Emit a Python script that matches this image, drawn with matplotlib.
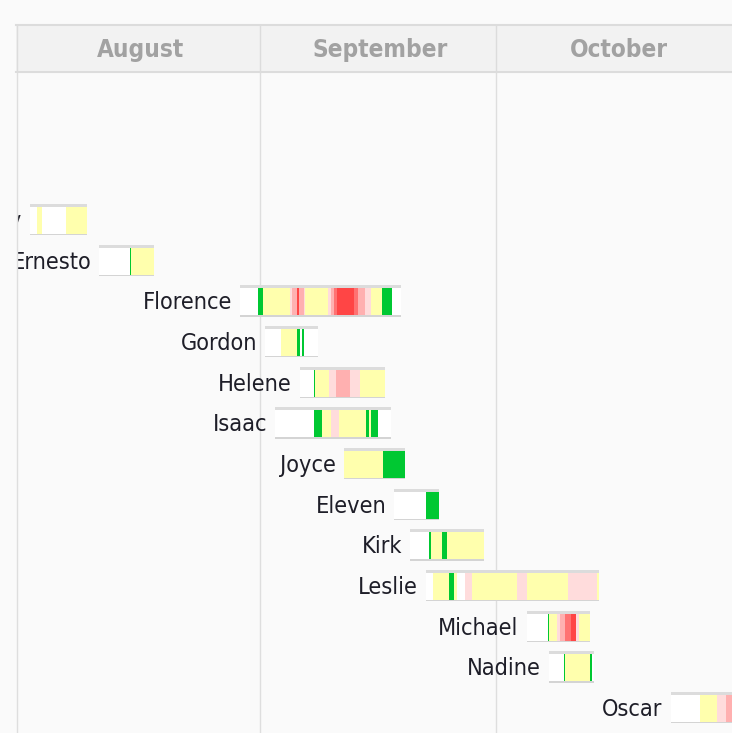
import matplotlib
matplotlib.use("Agg")
import matplotlib.pyplot as plt
from matplotlib import font_manager as fm
from matplotlib import transforms
from matplotlib.patches import Rectangle
from matplotlib.lines import Line2D

# days are counted from Aug 1 (0 = Aug 1, 31 = Sep 1, 61 = Oct 1)
months = ['August', 'September', 'October']
month_start = [0, 31, 61]
month_len = [31, 30, 31]

names = ['Debby', 'Ernesto', 'Florence', 'Gordon', 'Helene', 'Isaac', 'Joyce',
         'Eleven', 'Kirk', 'Leslie', 'Michael', 'Nadine', 'Oscar']
bar_start = [1.66, 10.48, 28.40, 31.58, 36.04, 32.86, 41.65, 48.05, 50.05, 52.09, 64.91, 67.75, 83.25]
bar_end = [8.88, 17.49, 48.87, 38.37, 46.87, 47.63, 49.41, 53.74, 59.51, 74.12, 72.97, 73.52, 95.0]

# (from, to, stage) for each storm
debby = [(2.59, 3.22, 'TS'), (6.24, 8.88, 'TS')]
ernesto = [(14.35, 14.50, 'TD'), (14.50, 17.49, 'TS')]
florence = [(30.73, 31.37, 'TD'), (31.37, 34.77, 'TS'), (34.77, 35.06, 'C1'), (35.06, 35.62, 'C2'),
            (35.62, 35.95, 'C4'), (35.95, 36.49, 'C2'), (36.49, 36.68, 'C1'), (36.68, 39.57, 'TS'),
            (39.57, 39.99, 'C1'), (39.99, 40.43, 'C2'), (40.43, 40.72, 'C3'), (40.72, 42.92, 'C4'),
            (42.92, 43.47, 'C3'), (43.47, 44.32, 'C2'), (44.32, 45.05, 'C1'), (45.05, 46.45, 'TS'),
            (46.45, 47.72, 'TD')]
gordon = [(33.58, 35.62, 'TS'), (35.62, 36.00, 'TD'), (36.33, 36.49, 'TD')]
helene = [(37.79, 37.95, 'TD'), (37.95, 39.77, 'TS'), (39.77, 40.59, 'C1'), (40.59, 42.45, 'C2'),
          (42.45, 43.64, 'C1'), (43.64, 46.87, 'TS')]
isaac = [(37.82, 38.81, 'TD'), (38.81, 40.03, 'TS'), (40.03, 41.01, 'C1'), (41.01, 44.41, 'TS'),
         (44.41, 44.83, 'TD'), (44.83, 45.08, 'TS'), (45.08, 46.01, 'TD')]
joyce = [(41.65, 46.65, 'TS'), (46.65, 49.41, 'TD')]
eleven = [(52.09, 53.71, 'TD')]
kirk = [(52.47, 52.73, 'TD'), (52.73, 54.09, 'TS'), (54.09, 54.73, 'TD'), (54.73, 59.51, 'TS')]
leslie = [(53.02, 55.06, 'TS'), (55.06, 55.69, 'TD'), (55.69, 56.08, 'TS'), (57.06, 57.91, 'C1'),
          (57.91, 63.72, 'TS'), (63.72, 64.91, 'C1'), (64.91, 70.21, 'TS'), (70.21, 73.83, 'C1'),
          (73.83, 74.12, 'TS')]
michael = [(67.59, 67.72, 'TD'), (67.72, 68.73, 'TS'), (68.73, 69.15, 'C1'), (69.15, 69.79, 'C2'),
           (69.79, 70.52, 'C3'), (70.52, 71.19, 'C4'), (71.19, 71.57, 'C1'), (71.57, 72.97, 'TS')]
nadine = [(69.62, 69.79, 'TD'), (69.79, 72.97, 'TS'), (72.97, 73.17, 'TD')]
oscar = [(87.02, 89.11, 'TS'), (89.11, 90.26, 'C1'), (90.26, 95.0, 'C2')]

tracks = [debby, ernesto, florence, gordon, helene, isaac, joyce,
          eleven, kirk, leslie, michael, nadine, oscar]

stage_colors = {'TD': '#00c832', 'TS': '#ffffad', 'C1': '#ffdcdc',
                'C2': '#ffb0b0', 'C3': '#ff7272', 'C4': '#ff4545'}

# font: condensed DejaVu looks closest to the original, fall back to the normal one
path = fm.findfont(fm.FontProperties(family='DejaVu Sans', stretch='condensed'))
if 'Condensed' in path:
    label_font = fm.FontProperties(fname=path, size=16.8)
    bold_path = fm.findfont(fm.FontProperties(family='DejaVu Sans', stretch='condensed', weight='bold'))
    month_font = fm.FontProperties(fname=bold_path, size=17.5)
else:
    label_font = fm.FontProperties(family='DejaVu Sans', size=15.2)
    month_font = fm.FontProperties(family='DejaVu Sans', weight='bold', size=15.5)

W, H = 732, 733
bg = '#fafafa'
fig = plt.figure(figsize=(W / 100, H / 100), dpi=100)
fig.patch.set_facecolor(bg)

px_day = 7.852
x_max = (W - 17) / px_day
row_px = 40.67

# main area under the month header
ax = fig.add_axes([17 / W, 0, 1 - 17 / W, (H - 73) / H])
ax.set_facecolor(bg)
ax.set_xlim(0, x_max)
ax.set_ylim((H - 220.5) / row_px, (73 - 220.5) / row_px)
ax.axis('off')

grid_c = '#dedede'
for m in month_start[1:]:
    ax.axvline(m, color=grid_c, lw=1, zorder=0)

h = 27 / row_px
top_h = 3 / row_px
line_h = 1.2 / row_px
label_tr = transforms.offset_copy(ax.transData, fig=fig, x=-8, y=-1, units='dots')

for i, name in enumerate(names):
    s, e = bar_start[i], bar_end[i]
    ax.barh(i, e - s, left=s, height=h, color='white', linewidth=0, zorder=2)
    ax.barh(i - h / 2 - top_h / 2, e - s, left=s, height=top_h, color='#dcdcdc', linewidth=0, zorder=2)
    ax.barh(i + h / 2 + line_h / 2, e - s, left=s, height=line_h, color='#d4d4d4', linewidth=0, zorder=2)
    for a, b, st in tracks[i]:
        ax.barh(i, b - a, left=a, height=h, color=stage_colors[st], linewidth=0, zorder=3)
    ax.text(s, i, name, transform=label_tr, ha='right', va='center',
            color='#1e1e28', fontproperties=label_font)

# names running past the left edge are cut there, like in the original
fig.add_artist(Rectangle((0, 0), 16.5 / W, (H - 73) / H, transform=fig.transFigure,
                         facecolor=bg, edgecolor='none', zorder=10))
fig.add_artist(Line2D([17 / W, 17 / W], [0, (H - 73) / H], transform=fig.transFigure,
                      color=grid_c, lw=1, zorder=11))

# month header band
hx = fig.add_axes([16 / W, (H - 72) / H, 1 - 16 / W, 47 / H])
hx.set_facecolor('#f2f2f2')
hx.set_xlim(-1 / px_day, x_max)
hx.set_ylim(0, 1)
hx.set_xticks([])
hx.set_yticks([])
for side in ['left', 'right']:
    hx.spines[side].set_visible(False)
for side in ['top', 'bottom']:
    hx.spines[side].set_color('#dcdcdc')
    hx.spines[side].set_linewidth(1.5)
for m, n, label in zip(month_start, month_len, months):
    hx.axvline(m, color='#dcdcdc', lw=1)
    hx.text(m + n / 2 + 0.2, 0.47, label, ha='center', va='center',
            color='#a2a2a2', fontproperties=month_font, clip_on=True)

plt.savefig('out.png', dpi=100, facecolor=fig.get_facecolor())
plt.close()
